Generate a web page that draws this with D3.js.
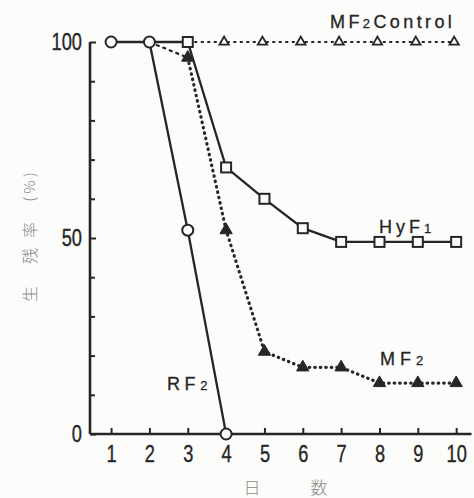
<!DOCTYPE html>
<html><head><meta charset="utf-8">
<script src="https://cdn.jsdelivr.net/npm/d3@7"></script>
<style>
html,body{margin:0;padding:0;background:#fcfcfa;}
svg{display:block;}
</style></head>
<body>
<svg id="chart" width="474" height="498"></svg>
<script>
// ---- data ----
const xTicks = [1,2,3,4,5,6,7,8,9,10];
const yTicksMajor = [0,50,100];
const yTicksMinor = [10,20,30,40,60,70,80,90];

const rf2Days = [1,2,3,4];
const rf2 = [100,100,52,0];

const hyf1Days = [2,3,4,5,6,7,8,9,10];
const hyf1 = [100,100,68,60,52.5,49,49,49,49];

const mf2Days = [2,3,4,5,6,7,8,9,10];
const mf2 = [100,96,52,21,17,17,13,13,13];

const ctrlDays = [3,4,5,6,7,8,9,10];
const ctrl = [100,100,100,100,100,100,100,100];

const yTitleParts = ["生", "残", "率", "( % )"];
const xTitleA = "日", xTitleB = "数";

// ---- drawing ----
const svg = d3.select("#chart");
const ink = "#262626";
const x = d3.scaleLinear().domain([0.45, 10.4]).range([90, 471.5]);
const y = d3.scaleLinear().domain([0, 100]).range([434, 42]);
const numFont = "'Liberation Sans',sans-serif";
const sx = 0.76;

// axes
const xAxis = d3.axisBottom(x).tickValues(xTicks).tickSize(-6).tickPadding(10).tickFormat(d3.format("d"));
const gx = svg.append("g").attr("transform", `translate(0,${y(0)})`).call(xAxis);
gx.select(".domain").attr("d", `M${x(0.45)},0H${x(10.4)}`);
const yAxis = d3.axisLeft(y).tickValues(yTicksMajor).tickSize(-6).tickPadding(8);
const gy = svg.append("g").attr("transform", `translate(${x(0.45)},0)`).call(yAxis);
gy.select(".domain").attr("d", `M0,${y(100)}V${y(0)}`);
const gym = svg.append("g").attr("transform", `translate(${x(0.45)},0)`)
  .call(d3.axisLeft(y).tickValues(yTicksMinor).tickSize(-5).tickFormat(""));
gym.select(".domain").remove();

svg.selectAll(".domain").attr("stroke", ink).attr("stroke-width", 2.6);
svg.selectAll(".tick line").attr("stroke", ink).attr("stroke-width", 2);
svg.selectAll(".tick text").attr("fill", ink).attr("stroke", ink).attr("stroke-width", 0.35)
  .attr("font-family", numFont).attr("font-size", 24);
gx.selectAll(".tick text").attr("dy", "0.75em").attr("transform", `scale(${sx},1)`);
gy.selectAll(".tick text").attr("x", -8 / sx).attr("transform", `scale(${sx},1)`);

// axis titles
const yPos = [294, 256, 230, 187];
yTitleParts.forEach((s, i) => {
  svg.append("text").attr("transform", `translate(30,${yPos[i]}) rotate(-90)`)
    .attr("text-anchor", "middle").attr("dy", "0.35em")
    .attr("font-family", "'Noto Sans CJK JP',sans-serif").attr("font-weight", 300)
    .attr("font-size", i === 3 ? 15 : 16).attr("fill", "#8a8a8a").text(s);
});
svg.append("text").attr("x", 252).attr("y", 494).attr("text-anchor", "middle")
  .attr("font-family", "'Noto Sans CJK JP',sans-serif").attr("font-weight", 300).attr("font-size", 17).attr("fill", "#8a8a8a").text(xTitleA);
svg.append("text").attr("x", 319).attr("y", 494).attr("text-anchor", "middle")
  .attr("font-family", "'Noto Sans CJK JP',sans-serif").attr("font-weight", 300).attr("font-size", 17).attr("fill", "#8a8a8a").text(xTitleB);

const line = d3.line().x(d => x(d[0])).y(d => y(d[1]));
const zip = (a, b) => a.map((v, i) => [v, b[i]]);

// MF2 Control (thin dashed)
svg.append("path").attr("d", line(zip(ctrlDays, ctrl))).attr("fill", "none")
  .attr("stroke", ink).attr("stroke-width", 2).attr("stroke-dasharray", "3,3.5");
// MF2 (dotted; first segment dashed)
const mf2Pts = zip(mf2Days, mf2);
svg.append("path").attr("d", line(mf2Pts.slice(0, 2))).attr("fill", "none")
  .attr("stroke", ink).attr("stroke-width", 2.2).attr("stroke-dasharray", "4,3");
svg.append("path").attr("d", line(mf2Pts.slice(1))).attr("fill", "none")
  .attr("stroke", ink).attr("stroke-width", 3.2).attr("stroke-linecap", "round").attr("stroke-dasharray", "0.5,5");
// HyF1
svg.append("path").attr("d", line(zip(hyf1Days, hyf1))).attr("fill", "none")
  .attr("stroke", ink).attr("stroke-width", 2.3);
// RF2
svg.append("path").attr("d", line(zip(rf2Days, rf2))).attr("fill", "none")
  .attr("stroke", ink).attr("stroke-width", 2.3);

// markers
const tri = d3.symbol().type(d3.symbolTriangle);
svg.append("g").selectAll("path").data(zip(ctrlDays, ctrl).filter(d => d[0] > 3)).join("path")
  .attr("transform", d => `translate(${x(d[0]) - 2},${y(d[1])})`).attr("d", tri.size(38)())
  .attr("fill", "#fcfcfa").attr("stroke", ink).attr("stroke-width", 1.8);
svg.append("g").selectAll("path").data(mf2Pts.filter(d => d[0] > 2)).join("path")
  .attr("transform", d => `translate(${x(d[0])},${y(d[1])})`).attr("d", tri.size(66)())
  .attr("fill", ink).attr("stroke", ink).attr("stroke-width", 1);
svg.append("g").selectAll("rect").data(zip(hyf1Days, hyf1).filter(d => d[0] > 2)).join("rect")
  .attr("x", d => x(d[0]) - 5).attr("y", d => y(d[1]) - 5).attr("width", 10).attr("height", 10)
  .attr("fill", "#fcfcfa").attr("stroke", ink).attr("stroke-width", 2);
svg.append("g").selectAll("circle").data(zip(rf2Days, rf2)).join("circle")
  .attr("cx", d => x(d[0])).attr("cy", d => y(d[1])).attr("r", 5.5)
  .attr("fill", "#fcfcfa").attr("stroke", ink).attr("stroke-width", 2);

// series labels
function label(px, py, parts, ls) {
  const t = svg.append("text").attr("x", px).attr("y", py).attr("fill", ink)
    .attr("stroke", ink).attr("stroke-width", 0.3)
    .attr("font-family", "'Liberation Sans','DejaVu Sans',sans-serif").attr("font-size", 18).attr("letter-spacing", ls);
  parts.forEach(p => t.append("tspan").attr("font-size", p[1]).text(p[0]));
}
label(330, 28, [["MF", 18], ["2", 13], ["Control", 18]], 3.4);
label(379, 233, [["HyF", 18], ["1", 13]], 4);
label(380, 365, [["MF", 18], ["2", 13]], 5);
label(167, 390, [["RF", 18], ["2", 13]], 4.6);
</script>
</body></html>
